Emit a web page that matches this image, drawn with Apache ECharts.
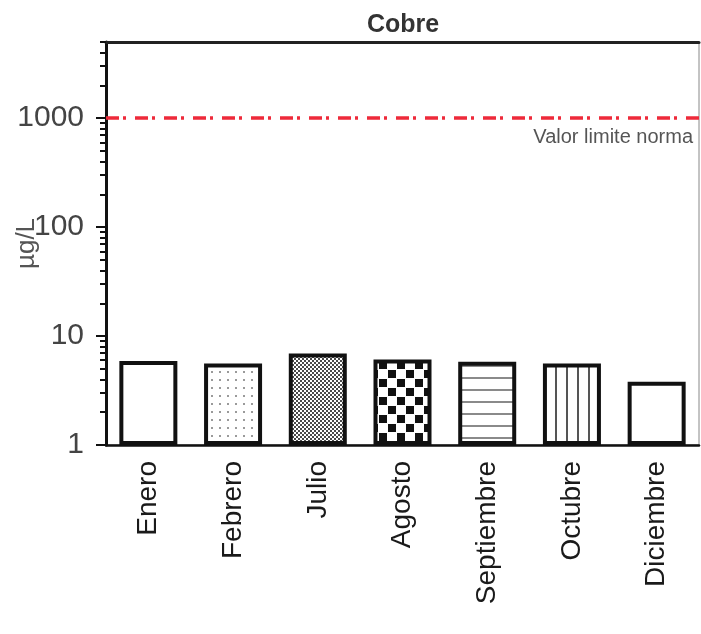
<!DOCTYPE html>
<html>
<head>
<meta charset="utf-8">
<script src="https://cdn.jsdelivr.net/npm/echarts@6/dist/echarts.min.js"></script>
<style>
html,body{margin:0;padding:0;background:#fff;}
#chart{width:701px;height:634px;}
</style>
</head>
<body>
<div id="chart"></div>
<script>
// ---- data ----
const months = ['Enero', 'Febrero', 'Julio', 'Agosto', 'Septiembre', 'Octubre', 'Diciembre'];
const values = [5.9, 5.6, 6.9, 6.1, 5.8, 5.6, 3.8];
const limitValue = 1000;
const limitLabel = 'Valor limite norma';
const majorTicks = [1, 10, 100, 1000];
const minorTicks = [2,3,4,5,6,7,8,9,20,30,40,50,60,70,80,90,200,300,400,500,600,700,800,900,2000,3000,4000,5000];
const title = 'Cobre';
const unit = 'µg/L';

// ---- patterns ----
function mk(w, h, draw) {
  const c = document.createElement('canvas');
  c.width = w; c.height = h;
  const g = c.getContext('2d');
  g.fillStyle = '#fff'; g.fillRect(0, 0, w, h);
  draw(g);
  return { image: c, repeat: 'repeat' };
}
const patWhite = '#ffffff';
const patDots = mk(8, 8, g => { g.fillStyle = '#9a9a9a'; g.fillRect(3, 3, 2, 2); });
const patFine = mk(4, 4, g => { g.fillStyle = '#4a4a4a'; g.fillRect(0, 0, 2, 2); g.fillRect(2, 2, 2, 2); });
const patChecker = mk(18, 18, g => { g.fillStyle = '#111'; g.fillRect(1, 1, 8, 8); g.fillRect(10, 10, 8, 8); });
const patHoriz = mk(12, 12, g => { g.fillStyle = '#8a8a8a'; g.fillRect(0, 5, 12, 2); });
const patVert = mk(11, 11, g => { g.fillStyle = '#555'; g.fillRect(5, 0, 2, 11); });
const patterns = [patWhite, patDots, patFine, patChecker, patHoriz, patVert, patWhite];

const chart = echarts.init(document.getElementById('chart'), null, { renderer: 'canvas' });
const font = 'Liberation Sans, Arial, sans-serif';

const option = {
  animation: false,
  backgroundColor: '#fff',
  title: {
    text: title, left: 398, top: 8, textAlign: 'center',
    textStyle: { fontFamily: font, fontSize: 25, fontWeight: 'bold', color: '#333' }
  },
  grid: { left: 106, right: 2, top: 42, bottom: 189, show: true, borderColor: '#888', borderWidth: 1, containLabel: false, outerBoundsMode: 'none' },
  xAxis: [{
    type: 'category', data: months, position: 'bottom',
    axisLine: { lineStyle: { color: '#111', width: 2.5 } },
    axisTick: { alignWithLabel: true, length: 9, lineStyle: { color: '#111', width: 2 } },
    axisLabel: { rotate: 90, margin: 16, fontFamily: font, fontSize: 28, color: '#1a1a1a' }
  }, {
    type: 'category', data: months, position: 'top',
    axisLine: { lineStyle: { color: '#222', width: 3 } },
    axisTick: { show: false }, axisLabel: { show: false }
  }],
  yAxis: [{
    type: 'log', logBase: 10, min: 1, max: 5000, position: 'left',
    name: unit, nameLocation: 'middle', nameGap: 66, nameRotate: 90, nameMoveOverlap: false,
    nameTextStyle: { fontFamily: font, fontSize: 26, color: '#555' },
    axisLine: { show: true, lineStyle: { color: '#111', width: 3 } },
    axisTick: { show: true, length: 10, customValues: majorTicks, lineStyle: { color: '#111', width: 2 } },
    axisLabel: { customValues: majorTicks, margin: 22, fontFamily: font, fontSize: 30, color: '#444',
      formatter: v => String(Math.round(v)) },
    splitLine: { show: false }
  }, {
    type: 'log', logBase: 10, min: 1, max: 5000, position: 'left',
    axisLine: { show: false },
    axisTick: { show: true, length: 6, customValues: minorTicks, lineStyle: { color: '#111', width: 2 } },
    axisLabel: { show: false },
    splitLine: { show: false }
  }],
  series: [{
    type: 'bar',
    xAxisIndex: 0, yAxisIndex: 0,
    barWidth: 58,
    data: values.map((v, i) => ({ value: v, itemStyle: { color: patterns[i] } })),
    itemStyle: { borderColor: '#111', borderWidth: 4 },
    markLine: {
      silent: true, symbol: 'none',
      lineStyle: { color: '#ee2a3a', width: 3.5, type: [13, 4, 3, 9] },
      label: { show: true, position: 'insideEndBottom', formatter: limitLabel, fontFamily: font, fontSize: 20, color: '#555', distance: [6, 9] },
      data: [{ yAxis: limitValue }]
    }
  }]
};
chart.setOption(option);
</script>
</body>
</html>
